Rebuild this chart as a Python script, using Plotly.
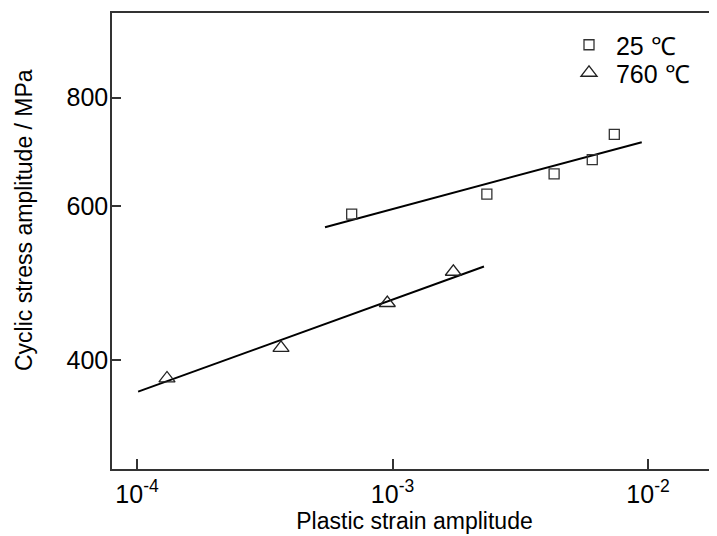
import plotly.graph_objects as go

# 25 °C data
strain_25 = [6.92e-4, 2.34e-3, 4.29e-3, 6.05e-3, 7.38e-3]
stress_25 = [588, 620, 654, 679, 726]
fit_strain_25 = [5.44e-4, 9.45e-3]
fit_stress_25 = [568, 711]

# 760 °C data
strain_760 = [1.31e-4, 3.66e-4, 9.54e-4, 1.73e-3]
stress_760 = [381, 413, 465, 505]
fit_strain_760 = [1.01e-4, 2.28e-3]
fit_stress_760 = [368, 512]

xtick_vals = [1e-4, 1e-3, 1e-2]
xtick_text = ["10<sup>-4</sup>", "10<sup>-3</sup>", "10<sup>-2</sup>"]
ytick_vals = [400, 600, 800]
ytick_text = ["400", "600", "800"]

FONT = "Liberation Sans, Arial, sans-serif"

# page body has an 8px margin; the figure is sized/offset to compensate
W, H = 709, 528
ML, MT, MB = 104, 5, 67
PW = W - ML
PH = H - MT - MB

fig = go.Figure()
fig.add_trace(go.Scatter(x=fit_strain_25, y=fit_stress_25, mode="lines",
                         line=dict(color="black", width=2), showlegend=False))
fig.add_trace(go.Scatter(x=fit_strain_760, y=fit_stress_760, mode="lines",
                         line=dict(color="black", width=2), showlegend=False))
fig.add_trace(go.Scatter(x=strain_25, y=stress_25, mode="markers", name=" 25 \u2103",
                         legend="legend",
                         marker=dict(symbol="square-open", size=10, color="#333333",
                                     line=dict(width=1.3, color="#333333"))))
fig.add_trace(go.Scatter(x=strain_760, y=stress_760, mode="markers", name=" 760 \u2103",
                         legend="legend2",
                         marker=dict(symbol="triangle-up-open", size=14, color="#222222",
                                     line=dict(width=1.3, color="#222222"))))

leg_common = dict(xanchor="left", yanchor="top", bgcolor="rgba(0,0,0,0)",
                  font=dict(family=FONT, size=25, color="black"), itemsizing="trace")

fig.update_layout(
    width=W, height=H,
    margin=dict(l=ML, r=0, t=MT, b=MB),
    paper_bgcolor="white", plot_bgcolor="white",
    font=dict(family=FONT, size=23, color="black"),
    legend=dict(x=(561 - ML) / PW, y=1 - (14 - MT) / PH, **leg_common),
    legend2=dict(x=(561 - ML) / PW, y=1 - (42 - MT) / PH, **leg_common),
    annotations=[dict(text="Cyclic stress amplitude / MPa", textangle=-90,
                      xref="paper", yref="paper", x=(16 - ML) / PW, y=1 - (212 - MT) / PH,
                      showarrow=False, font=dict(family=FONT, size=23),
                      xanchor="center", yanchor="middle")],
)
fig.update_xaxes(type="log", range=[-4.098, -1.730],
                 tickvals=xtick_vals, ticktext=xtick_text,
                 ticks="inside", ticklen=10, tickwidth=1.5, tickcolor="#333333",
                 showline=True, linecolor="#333333", linewidth=1.5, mirror=True,
                 showgrid=False, zeroline=False, ticklabelstandoff=2,
                 title=dict(text="Plastic strain amplitude", font=dict(family=FONT, size=23),
                            standoff=6),
                 tickfont=dict(family=FONT, size=25))
fig.update_yaxes(type="log", range=[2.47712, 3.0],
                 tickvals=ytick_vals, ticktext=ytick_text,
                 ticks="inside", ticklen=9, tickwidth=1.5, tickcolor="#333333",
                 showline=True, linecolor="#333333", linewidth=1.5, mirror=False,
                 showgrid=False, zeroline=False, ticklabelstandoff=-3,
                 tickfont=dict(family=FONT, size=25))

fig.write_html("out.html")
